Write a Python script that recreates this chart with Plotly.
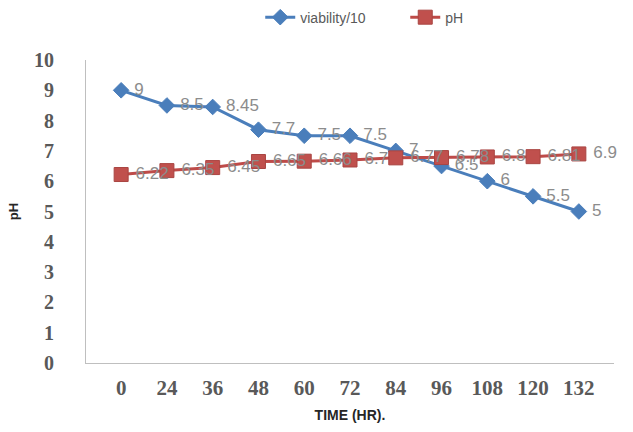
import plotly.graph_objects as go

times = ["0", "24", "36", "48", "60", "72", "84", "96", "108", "120", "132"]
viability = [9, 8.5, 8.45, 7.7, 7.5, 7.5, 7, 6.5, 6, 5.5, 5]
ph = [6.22, 6.35, 6.45, 6.65, 6.66, 6.7, 6.77, 6.78, 6.8, 6.81, 6.9]
y_ticks = list(range(0, 11))

label_font = dict(family="Liberation Sans, Arial, sans-serif", size=17, color="#8c8c8c")

fig = go.Figure()
fig.add_trace(go.Scatter(
    x=times, y=viability, name="viability/10",
    mode="lines+markers+text", text=[str(v) for v in viability],
    texttemplate=" %{text}", cliponaxis=False,
    textposition="middle right", textfont=label_font,
    line=dict(color="#4a7ebb", width=3),
    marker=dict(symbol="diamond", size=12, color="#4a7ebb", line=dict(color="#4a7ebb", width=1)),
))
fig.add_trace(go.Scatter(
    x=times, y=ph, name="pH",
    mode="lines+markers+text", text=[str(v) for v in ph],
    texttemplate=" %{text}", cliponaxis=False,
    textposition="middle right", textfont=label_font,
    line=dict(color="#be4b48", width=3),
    marker=dict(symbol="square", size=14, color="#c0504d", line=dict(color="#a94542", width=1)),
))

fig.update_layout(
    width=633, height=432,
    margin=dict(l=86, r=19, t=60, b=69, autoexpand=False),
    paper_bgcolor="white", plot_bgcolor="white",
    showlegend=True,
    legend=dict(orientation="h", x=0.33, xanchor="left", y=1.14, yanchor="middle",
                font=dict(family="Liberation Sans, Arial, sans-serif", size=14, color="#595959"),
                itemwidth=30, tracegroupgap=0, bgcolor="rgba(0,0,0,0)",
                entrywidth=100, entrywidthmode="pixels"),
    xaxis=dict(
        type="category", showgrid=False, zeroline=False,
        showline=True, linecolor="#bfbfbf", linewidth=1,
        ticks="outside", ticklen=6, tickcolor="rgba(0,0,0,0)",
        tickfont=dict(family="Liberation Serif, Times New Roman, serif", size=21, color="#595959", weight="bold"),
        title=dict(text="TIME (HR).", standoff=10,
                   font=dict(family="Liberation Sans, Arial, sans-serif", size=14, color="#262626", weight="bold")),
        automargin=False,
    ),
    yaxis=dict(
        range=[0, 10], tickvals=y_ticks, showgrid=False, zeroline=False,
        showline=True, linecolor="#bfbfbf", linewidth=1,
        ticks="outside", ticklen=27, tickcolor="rgba(0,0,0,0)",
        tickfont=dict(family="Liberation Serif, Times New Roman, serif", size=20, color="#595959", weight="bold"),
        title=dict(text="pH", standoff=12,
                   font=dict(family="Liberation Sans, Arial, sans-serif", size=13, color="#262626", weight="bold")),
        automargin=False,
    ),
)

fig.write_html("out.html")
